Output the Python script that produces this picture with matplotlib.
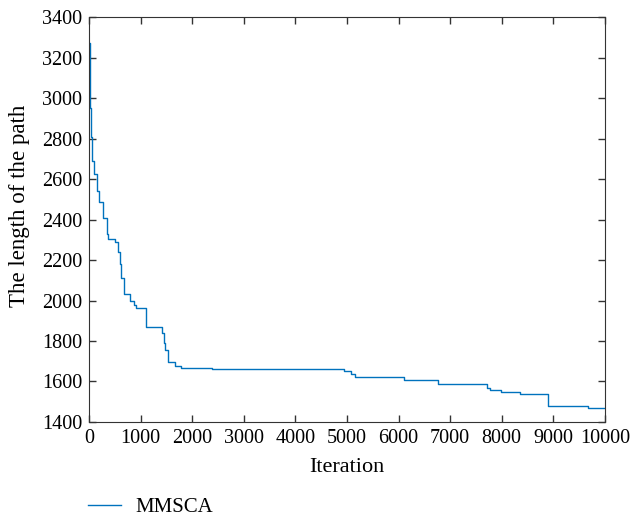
import matplotlib.pyplot as plt
import numpy as np

plt.rcParams['font.family'] = ['Liberation Serif', 'DejaVu Serif']

# best path length per iteration (step changes only)
iterations = [0, 10, 39, 58, 103, 155, 186, 271, 355, 375, 496, 554, 601, 626,
              678, 787, 878, 911, 1105, 1415, 1446, 1470, 1523, 1672, 1783,
              2390, 2608, 4934, 5078, 5160, 6097, 6764, 7713, 7783, 7984,
              8364, 8907, 9671, 10000]
path_length = [3270, 2950, 2810, 2690, 2625, 2540, 2485, 2410, 2330, 2305, 2288,
               2240, 2180, 2110, 2030, 2000, 1978, 1962, 1870, 1842, 1790,
               1757, 1695, 1678, 1668, 1663, 1660, 1652, 1636, 1622, 1606,
               1590, 1570, 1558, 1550, 1540, 1481, 1468, 1468]

x_ticks = np.arange(0, 10001, 1000)
y_ticks = np.arange(1400, 3401, 200)

fig = plt.figure(figsize=(6.32, 5.20), dpi=100)
ax = fig.add_axes([0.141, 0.1885, 0.816, 0.7785])

ax.plot(iterations, path_length, drawstyle='steps-post', color='#0072BD',
        linewidth=1.0, label='MMSCA')

ax.set_xlim(0, 10000)
ax.set_ylim(1400, 3400)
ax.set_xticks(x_ticks)
ax.set_yticks(y_ticks)
ax.tick_params(direction='in', top=True, right=True, labelsize=14.5,
               length=5, width=1, color='#333333', pad=5)
for s in ax.spines.values():
    s.set_color('#333333')

ax.set_xlabel('Iteration', fontsize=16, labelpad=7)
ax.set_ylabel('The length of the path', fontsize=16.5)
ax.yaxis.set_label_coords(-0.115, 0.533)

fig.legend(loc='center left', bbox_to_anchor=(0.139, 0.025), frameon=False,
           fontsize=15, handlelength=1.6, handletextpad=0.7,
           borderpad=0, borderaxespad=0)

plt.savefig('out.png', dpi=100)
